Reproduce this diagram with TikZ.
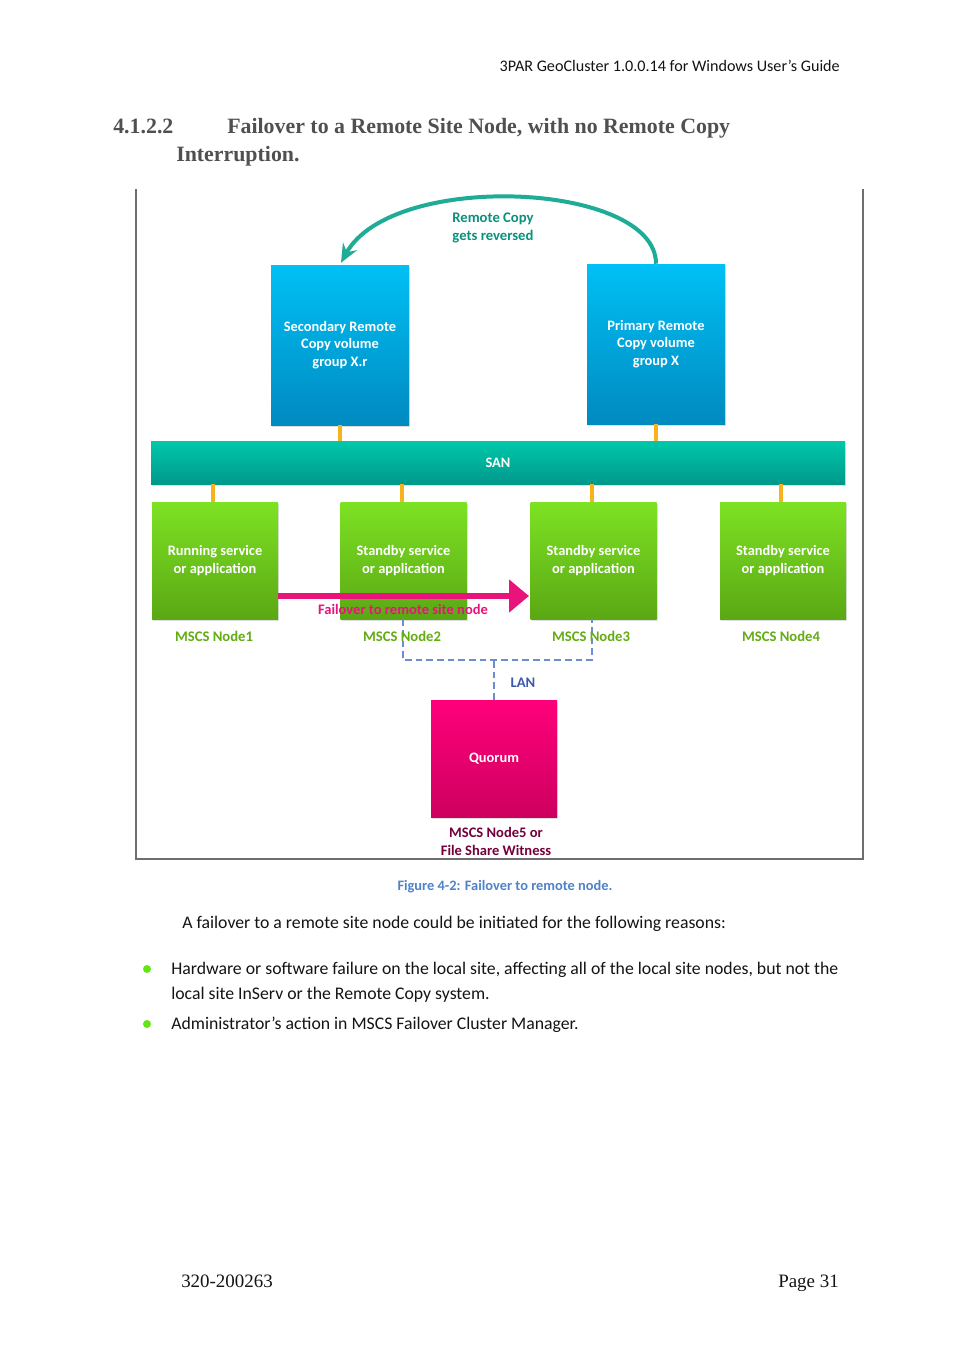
\documentclass[tikz,border=0pt]{standalone}
\usepackage{fontspec}
\setmainfont{Carlito}
\newfontfamily\serifhead{Liberation Serif}
\usetikzlibrary{arrows.meta,shadows}
\newdimen\px \px=0.75pt
\definecolor{headgray}{RGB}{80,80,80}
\definecolor{bluetop}{RGB}{0,192,245}
\definecolor{bluebot}{RGB}{0,138,192}
\definecolor{tealtop}{RGB}{0,200,170}
\definecolor{tealbot}{RGB}{0,152,140}
\definecolor{greentop}{RGB}{125,226,35}
\definecolor{greenbot}{RGB}{90,168,20}
\definecolor{pinktop}{RGB}{255,0,122}
\definecolor{pinkbot}{RGB}{205,0,95}
\definecolor{orangec}{RGB}{248,178,30}
\definecolor{pinkarr}{RGB}{232,20,122}
\definecolor{greenlbl}{RGB}{100,172,20}
\definecolor{lanc}{RGB}{110,140,210}
\definecolor{lantxt}{RGB}{60,90,170}
\definecolor{maroon}{RGB}{115,0,58}
\definecolor{capblue}{RGB}{80,130,200}
\definecolor{tealarc}{RGB}{30,172,150}
\definecolor{tealtxt}{RGB}{10,145,125}
\definecolor{bulletg}{RGB}{100,230,20}
\definecolor{framec}{RGB}{110,110,110}
\definecolor{bodyc}{RGB}{20,20,20}
\begin{document}
\begin{tikzpicture}[x=0.75pt,y=-0.75pt,
  boxbase/.style={inner sep=0pt, align=center, text=white,
    font=\bfseries\fontsize{10.8}{13.2}\selectfont,
    drop shadow={opacity=0.25, shadow xshift=1pt, shadow yshift=-1.2pt}},
  volbox/.style={boxbase, top color=bluetop, bottom color=bluebot,
    minimum width=138\px, minimum height=160\px},
  sanbar/.style={boxbase, top color=tealtop, bottom color=tealbot,
    minimum width=694\px, minimum height=43\px},
  nodebox/.style={boxbase, top color=greentop, bottom color=greenbot,
    minimum width=126\px, minimum height=117\px},
  quorbox/.style={boxbase, top color=pinktop, bottom color=pinkbot,
    minimum width=126\px, minimum height=117\px},
  link/.style={draw=orangec, line width=3pt},
  lan/.style={draw=lanc, line width=1.4pt, dash pattern=on 5pt off 3pt},
  nodelbl/.style={text=greenlbl, font=\bfseries\fontsize{11}{13}\selectfont},
  bodytxt/.style={anchor=base west, text=bodyc, font=\fontsize{13.3}{15}\selectfont, inner sep=0pt},
  dot/.style={circle, fill=bulletg, inner sep=0pt, minimum size=8\px}
]
\useasboundingbox (0,0) rectangle (954,1350);
\fill[white] (0,0) rectangle (954,1350);

% header
\node[anchor=base east, inner sep=0pt, text=bodyc, font=\fontsize{12.1}{14}\selectfont] (hdr) at (840,71) {3PAR GeoCluster 1.0.0.14 for Windows User’s Guide};
\node[anchor=base west, inner sep=0pt, text=headgray, font=\serifhead\bfseries\fontsize{16.4}{19}\selectfont] (secnum) at (113,133) {4.1.2.2};
\node[anchor=base west, inner sep=0pt, text=headgray, font=\serifhead\bfseries\fontsize{16.4}{19}\selectfont] (sect1) at (227,133) {Failover to a Remote Site Node, with no Remote Copy};
\node[anchor=base west, inner sep=0pt, text=headgray, font=\serifhead\bfseries\fontsize{16.4}{19}\selectfont] (sect2) at (176,161) {Interruption.};

% frame
\draw[framec, line width=0.8pt] (136,189) -- (136,859) -- (863,859) -- (863,189);

% boxes
\node[volbox] (sec) at (340,345) {Secondary Remote\\Copy volume\\group X.r};
\node[volbox] (pri) at (656,344) {Primary Remote\\Copy volume\\group X};
\node[sanbar] (san) at (498,462.5) {SAN};
\node[nodebox] (g1) at (215,560.5) {Running service\\or application};
\node[nodebox] (g2) at (403.5,560.5) {Standby service\\or application};
\node[nodebox] (g3) at (593.5,560.5) {Standby service\\or application};
\node[nodebox] (g4) at (783,560.5) {Standby service\\or application};
\node[quorbox] (quor) at (494,758.5) {Quorum};

% orange links
\draw[link] (sec.south) -- (sec.south |- san.north);
\draw[link] (pri.south) -- (pri.south |- san.north);
\foreach \g/\xx in {g1/213,g2/402,g3/592,g4/781}
  \draw[link] (\xx,484) -- (\g.north -| \xx,0);

% LAN
\draw[lan] (g2.south -| 403,0) -- (403,660) -- (592,660) -- (g3.south -| 592,0);
\draw[lan] (quor.north) -- (quor.north |- 0,660);
\node[text=lantxt, font=\bfseries\fontsize{11}{13}\selectfont] (lantext) at (523,683) {LAN};

% node labels
\node[nodelbl] (l1) at (214,636) {MSCS Node1};
\node[nodelbl] (l2) at (402,636) {MSCS Node2};
\node[nodelbl] (l3) at (591,636) {MSCS Node3};
\node[nodelbl] (l4) at (781,636) {MSCS Node4};
\node[text=maroon, align=center, font=\bfseries\fontsize{10.9}{13.5}\selectfont] (l5) at (496,841) {MSCS Node5 or\\File Share Witness};

% failover arrow
\coordinate (fa) at (g1.east |- 0,596);
\coordinate (fb) at (529,596);
\draw[draw=pinkarr, line width=4.5pt, -{Triangle[length=15pt,width=24pt]}] (fa) -- (fb);
\node[text=pinkarr, font=\bfseries\fontsize{10.9}{13}\selectfont] (fotxt) at (403,609) {Failover to remote site node};

% remote copy arc
\draw[draw=tealarc, line width=3pt, -{Stealth[length=14pt,width=12pt,inset=5pt]}] (pri.north) .. controls (656,182) and (392,170) .. ([xshift=1\px,yshift=2\px]sec.north);
\node[text=tealtxt, align=center, font=\bfseries\fontsize{11}{13.5}\selectfont] (rctxt) at (493,228) {Remote Copy\\gets reversed};

% caption and body
\node[text=capblue, font=\bfseries\fontsize{10.8}{12}\selectfont] (cap) at (505,887) {Figure 4-2: Failover to remote node.};
\node[bodytxt] (b0) at (182,928) {A failover to a remote site node could be initiated for the following reasons:};
\node[dot] (d1) at (147,969) {};
\node[bodytxt] (b1) at (171,974) {Hardware or software failure on the local site, affecting all of the local site nodes, but not the};
\node[bodytxt] (b2) at (171,999) {local site InServ or the Remote Copy system.};
\node[dot] (d2) at (147,1024) {};
\node[bodytxt] (b3) at (171,1029) {Administrator’s action in MSCS Failover Cluster Manager.};

% footer
\node[anchor=base west, inner sep=0pt, text=bodyc, font=\serifhead\fontsize{14.2}{16}\selectfont] (f1) at (181,1287) {320-200263};
\node[anchor=base east, inner sep=0pt, text=bodyc, font=\serifhead\fontsize{14.2}{16}\selectfont] (f2) at (839,1287) {Page 31};
\end{tikzpicture}
\end{document}
